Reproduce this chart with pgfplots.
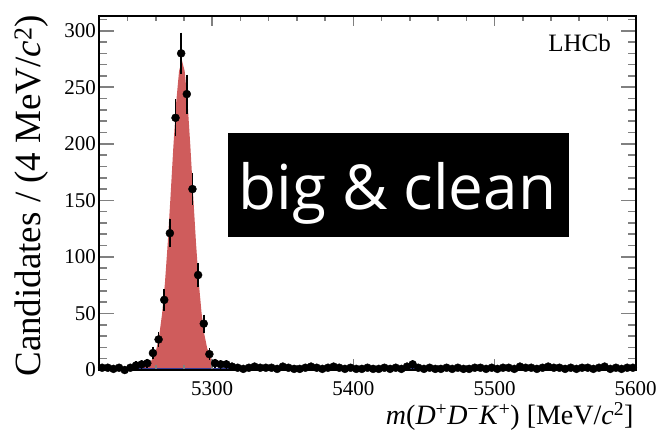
\documentclass[border=0pt]{standalone}
\usepackage{fontspec}
\setmainfont{Liberation Serif}
\newfontfamily\boxfont{Open Sans}
\usepackage{pgfplots}
\usepackage{pgfplotstable}
\pgfplotsset{compat=1.18}
\definecolor{sigred}{RGB}{207,92,92}
\definecolor{bkgblue}{RGB}{50,60,150}

\pgfplotstableread{
x y e
5222 2 1.41
5226 2 1.41
5230 1 1
5234 2 1.41
5238 0 0
5242 2 1.41
5246 4 2
5250 5 2.24
5254 6 2.45
5258 15 3.87
5262 27 5.2
5266 62 7.87
5270 121 11
5274 223 14.93
5278 280 16.73
5282 244 15.62
5286 160 12.65
5290 84 9.17
5294 41 6.4
5298 14 3.74
5302 6 2.45
5306 5 2.24
5310 5 2.24
5314 3 1.73
5318 2 1.41
5322 1 1
5326 2 1.41
5330 3 1.73
5334 2 1.41
5338 2 1.41
5342 2 1.41
5346 1 1
5350 3 1.73
5354 2 1.41
5358 1 1
5362 1 1
5366 2 1.41
5370 3 1.73
5374 2 1.41
5378 1 1
5382 2 1.41
5386 3 1.73
5390 2 1.41
5394 1 1
5398 2 1.41
5402 1 1
5406 1 1
5410 2 1.41
5414 1 1
5418 1 1
5422 2 1.41
5426 1 1
5430 2 1.41
5434 1 1
5438 3 1.73
5442 5 2.24
5446 2 1.41
5450 1 1
5454 2 1.41
5458 1 1
5462 1 1
5466 2 1.41
5470 1 1
5474 2 1.41
5478 1 1
5482 1 1
5486 2 1.41
5490 2 1.41
5494 1 1
5498 2 1.41
5502 1 1
5506 2 1.41
5510 2 1.41
5514 1 1
5518 3 1.73
5522 2 1.41
5526 2 1.41
5530 1 1
5534 2 1.41
5538 3 1.73
5542 2 1.41
5546 2 1.41
5550 1 1
5554 2 1.41
5558 1 1
5562 2 1.41
5566 2 1.41
5570 1 1
5574 2 1.41
5578 3 1.73
5582 1 1
5586 2 1.41
5590 1 1
5594 2 1.41
5598 2 1.41
}\datatable

\pgfplotstableread{
x y
5242.5 1.0
5244.5 1.3
5246.5 1.6
5248.5 2.1
5250.5 2.75
5252.5 3.7
5254.5 5.1
5256.5 7.5
5258.5 11.7
5260.5 18.9
5262.5 31.0
5264.5 49.9
5266.5 77.0
5268.5 112.5
5270.5 154.4
5272.5 198.1
5274.5 237.0
5276.5 264.2
5278.5 274.0
5280.5 264.2
5282.5 237.0
5284.5 198.1
5286.5 154.4
5288.5 112.5
5290.5 77.0
5292.5 49.9
5294.5 31.0
5296.5 18.9
5298.5 11.7
5300 9.0
5300 0
}\sigcurve

\begin{document}
\begin{tikzpicture}
\begin{axis}[
  scale only axis,
  width=536.4bp, height=354.3bp,
  xmin=5220, xmax=5600, ymin=0, ymax=313.3,
  clip=false,
  axis on top,
  axis line style={line width=1.8bp},
  tick align=inside,
  xtick={5300,5400,5500,5600},
  xticklabels={},
  minor xtick={5220,5240,...,5600},
  ytick={0,50,...,300},
  yticklabels={\mbox{0},\mbox{50},\mbox{100},\mbox{150},\mbox{200},\mbox{250},\mbox{300}},
  minor ytick={0,10,...,310},
  xtick style={line width=1.6bp, /pgfplots/major tick length=10.6bp, /pgfplots/minor tick length=5.3bp},
  ytick style={line width=1.6bp, /pgfplots/major tick length=15bp, /pgfplots/minor tick length=7.5bp},
  tick label style={font=\fontsize{21bp}{25bp}\selectfont},
  clip marker paths=false,
]
\addplot[fill=sigred, draw=none] table[x=x,y=y] {\sigcurve} \closedcycle;
\addplot[bkgblue, line width=1.2bp, no marks] coordinates {(5220,0.8) (5600,0.8)};
\addplot[only marks, mark=*, mark size=4bp, black,
  error bars/.cd, y dir=both, y explicit,
  error bar style={line width=1.6bp},
  error mark options={mark size=1.8bp, line width=1.6bp}]
  table[x=x, y=y, y error=e] {\datatable};
\pgfplotsinvokeforeach{5300,5400,5500,5600}{
  \node[anchor=base, inner sep=0, font=\fontsize{21bp}{25bp}\selectfont, yshift=-25bp] at (axis cs:#1,0) {#1};
}
\node[anchor=base west, inner sep=0, font=\fontsize{25bp}{30bp}\selectfont] at (axis cs:5538,281.5) {LHCb};
\fill[black] (axis cs:5311.1,117.6) rectangle (axis cs:5552.6,209.5);
\node[anchor=base, inner sep=0, text=white, font=\boxfont\fontsize{62bp}{70bp}\selectfont] at (axis cs:5431.2,141.5) {big \& clean};
\end{axis}
\node[rotate=90, anchor=base east, inner sep=0, font=\fontsize{37bp}{44bp}\selectfont] at ([xshift=-58.8bp, yshift=1bp]current axis.north west) {Candidates / (4 MeV/\textit{c}\textsuperscript{2})};
\node[anchor=base east, inner sep=0, font=\fontsize{28bp}{34bp}\selectfont] at ([xshift=-2bp, yshift=-54.5bp]current axis.south east) {\textit{m}(\textit{D}\textsuperscript{+}\textit{D}\textsuperscript{−}\textit{K}\textsuperscript{+}) [MeV/\textit{c}\textsuperscript{2}]};
\pgfresetboundingbox
\path ([xshift=-99.3bp, yshift=-61bp]current axis.south west) rectangle ([xshift=26.3bp, yshift=15.7bp]current axis.north east);
\end{tikzpicture}
\end{document}
